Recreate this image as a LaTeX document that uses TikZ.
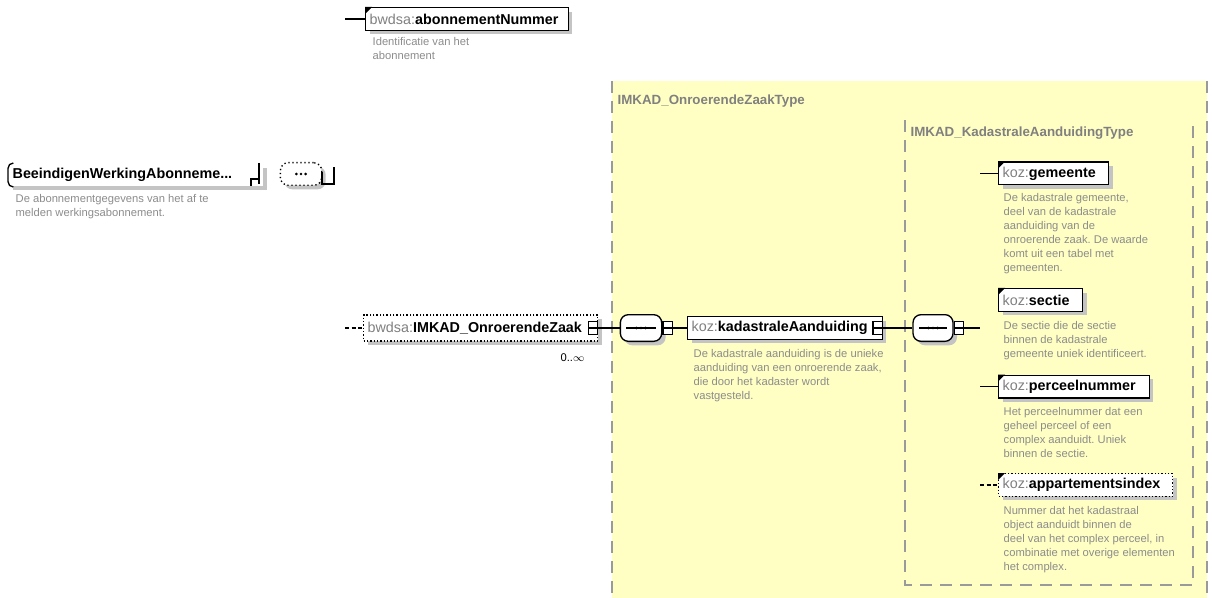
\documentclass[tikz,border=0pt]{standalone}
\usepackage{fontspec}
\setmainfont{Liberation Sans}
\usetikzlibrary{shadows}

\definecolor{typefill}{HTML}{FFFFC4}
\definecolor{typeline}{HTML}{9A9A9A}
\definecolor{desctext}{HTML}{8C8C8C}
\definecolor{shade}{HTML}{C4C4C4}

\newcommand{\pfx}[1]{\textcolor{gray}{#1}}
\frenchspacing

\tikzset{
  elem/.style={draw, fill=white, anchor=west, inner xsep=3pt, inner ysep=0pt,
    minimum height=17pt, text width=#1, align=left,
    font=\fontsize{10.75}{12}\selectfont,
    drop shadow={shadow xshift=3pt, shadow yshift=-3pt, fill=shade, opacity=1}},
  optelem/.style={elem=#1, dash pattern=on 1pt off 1.5pt},
  rootelem/.style={elem=#1, draw=none},
  descr/.style={anchor=north west, inner sep=0pt, align=left, text=desctext,
    font=\fontsize{8.4}{10.5}\selectfont},
  seqbox/.style={rectangle, rounded corners=6pt, draw, fill=white,
    minimum width=31pt, minimum height=20pt, inner sep=0pt,
    drop shadow={shadow xshift=3pt, shadow yshift=-3pt, fill=shade, opacity=1}},
  minusbox/.style={draw, fill=white, minimum width=7pt, minimum height=10pt, inner sep=0pt,
    path picture={\draw (path picture bounding box.west) -- (path picture bounding box.east);}},
  typelbl/.style={anchor=west, inner sep=0pt, text=gray, font=\bfseries\fontsize{10}{12}\selectfont},
  typebox/.style={draw=typeline, line width=1.5pt, dash pattern=on 9pt off 6pt},
}

\begin{document}
\begin{tikzpicture}[x=0.75pt, y=-0.75pt, line width=1pt]
  \useasboundingbox (0,0) rectangle (1212,598);

  % complex types
  \fill[typefill] (612,81) rectangle (1207,610);
  \draw[typebox] (612,81) -- (612,610) (1207,81) -- (1207,610);
  \draw[typebox] (905,120) -- (905,585) -- (1193,585) -- (1193,120);
  \node[typelbl] (outerlbl) at (617,101) {IMKAD\_OnroerendeZaakType};
  \node[typelbl] (innerlbl) at (910,133) {IMKAD\_KadastraleAanduidingType};

  % root element
  \node[rootelem=185pt] (root) at (8,175) {\textbf{BeeindigenWerkingAbonneme...}};
  \draw[rounded corners=4pt] ([xshift=4pt]root.north west) -- (root.north west)
    -- (root.south west) -- ([xshift=4pt]root.south west);
  \draw (251,186) -- (251,179) -- (259,179) (259,163) -- (259,184);
  \node[descr] (rootdesc) at (15,194) {De abonnementgegevens van het af te\\melden werkingsabonnement.};
  \node[seqbox, dotted, minimum height=17pt] (rc) at (301,174) {};
  \draw (322,172) -- (322,184) -- (334,184) -- (334,167);

  % abonnement
  \coordinate (abonL) at (345,19);
  \node[elem=146pt] (abon) at (365,19) {\pfx{bwdsa:}\textbf{abonnementNummer}};
  \draw (abonL) -- (abon.west);
  \node[descr] (abondesc) at (372,37) {Identificatie van het\\abonnement};

  % onroerende zaak
  \coordinate (midL) at (345,328);
  \node[optelem=169.5pt, minimum height=19.5pt] (mid) at (363,328) {\pfx{bwdsa:}\textbf{IMKAD\_OnroerendeZaak}};
  \node[minusbox, anchor=east] (midx) at (mid.east) {};
  \draw[dash pattern=on 3pt off 2pt] (midL) -- (mid.west);
  \node[anchor=east, inner sep=0pt, font=\fontsize{8.4}{10}\selectfont] (midcard) at (585,358) {0..$\infty$};

  \node[seqbox] (c1) at (641,328) {};
  \node[minusbox, anchor=west] (c1x) at (c1.east) {};
  \draw (midx.east) -- (c1.west);

  \node[elem=140pt] (kad) at (687,328) {\pfx{koz:}\textbf{kadastraleAanduiding}};
  \node[minusbox, anchor=east] (kadx) at (kad.east) {};
  \draw (c1x.east) -- (kad.west);
  \node[descr] (kaddesc) at (693,349) {De kadastrale aanduiding is de unieke\\aanduiding van een onroerende zaak,\\die door het kadaster wordt\\vastgesteld.};

  \node[seqbox, minimum width=30pt] (c2) at (933,328) {};
  \node[minusbox, anchor=west] (c2x) at (c2.east) {};
  \coordinate (c2R) at (980,328);
  \draw (kadx.east) -- (c2.west);
  \draw (c2x.east) -- (c2R);

  \foreach \c in {c1,c2}
    \draw ([xshift=5pt]\c.west) -- ([xshift=-5pt]\c.east);
  \foreach \c in {c1,c2,rc}
    \foreach \d in {-3.5,0,3.5}
      \fill ([xshift=\d pt]\c.center) circle (1.1pt);

  % kadastrale aanduiding
  \coordinate (gemL) at (980,173.5);
  \node[elem=76.5pt] (gem) at (998,173.5) {\pfx{koz:}\textbf{gemeente}};
  \draw (gemL) -- (gem.west);
  \node[descr] (gemdesc) at (1003,193) {De kadastrale gemeente,\\deel van de kadastrale\\aanduiding van de\\onroerende zaak. De waarde\\komt uit een tabel met\\gemeenten.};

  \node[elem=57pt] (sectie) at (998,300) {\pfx{koz:}\textbf{sectie}};
  \node[descr] (sectiedesc) at (1003,321) {De sectie die de sectie\\binnen de kadastrale\\gemeente uniek identificeert.};

  \coordinate (percL) at (980,386.5);
  \node[elem=107pt] (perc) at (998,386.5) {\pfx{koz:}\textbf{perceelnummer}};
  \draw (percL) -- (perc.west);
  \node[descr] (percdesc) at (1003,407) {Het perceelnummer dat een\\geheel perceel of een\\complex aanduidt. Uniek\\binnen de sectie.};

  \coordinate (appL) at (980,485);
  \node[optelem=124.5pt] (app) at (998,485) {\pfx{koz:}\textbf{appartementsindex}};
  \draw[dash pattern=on 3pt off 2pt] (appL) -- (app.west);
  \node[descr] (appdesc) at (1003,506) {Nummer dat het kadastraal\\object aanduidt binnen de\\deel van het complex perceel, in\\combinatie met overige elementen\\het complex.};

  % mandatory flags
  \foreach \e in {abon,gem,sectie,perc,app}
    \fill (\e.north west) -- ++(7,0) -- ++(-7,7) -- cycle;
\end{tikzpicture}
\end{document}
